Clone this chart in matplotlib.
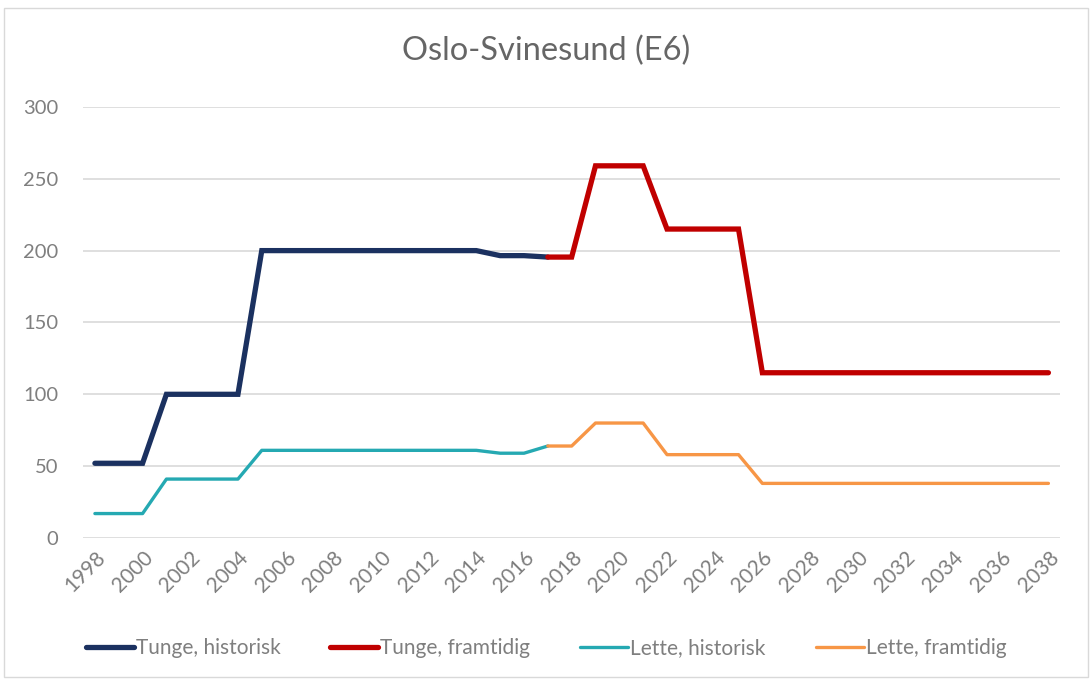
import matplotlib.pyplot as plt
from matplotlib.patches import Rectangle

# data
years_hist = list(range(1998, 2018))
tunge_hist = [52, 52, 52, 100, 100, 100, 100, 200, 200, 200,
              200, 200, 200, 200, 200, 200, 200, 196.5, 196.5, 195.5]
lette_hist = [17, 17, 17, 41, 41, 41, 41, 61, 61, 61,
              61, 61, 61, 61, 61, 61, 61, 59, 59, 64]

years_fut = list(range(2017, 2039))
tunge_fut = [195.5, 195.5, 259, 259, 259, 215, 215, 215, 215, 115, 115,
             115, 115, 115, 115, 115, 115, 115, 115, 115, 115, 115]
lette_fut = [64, 64, 80, 80, 80, 58, 58, 58, 58, 38, 38,
             38, 38, 38, 38, 38, 38, 38, 38, 38, 38, 38]

xticks = list(range(1998, 2039, 2))
yticks = [0, 50, 100, 150, 200, 250, 300]

plt.rcParams['font.family'] = ['Lato', 'DejaVu Sans']
TXT = "#7f7f7f"

fig = plt.figure(figsize=(10.92, 6.81), dpi=100)
ax = fig.add_axes([0.076, 0.210, 0.895, 0.633])

ax.plot(years_hist, tunge_hist, color="#1b3160", lw=3.8,
        solid_capstyle="round", solid_joinstyle="miter", label="Tunge, historisk", zorder=3)
ax.plot(years_fut, tunge_fut, color="#c00000", lw=3.8,
        solid_capstyle="round", solid_joinstyle="miter", label="Tunge, framtidig", zorder=3)
ax.plot(years_hist, lette_hist, color="#25a9b2", lw=2.4,
        solid_capstyle="round", label="Lette, historisk", zorder=3)
ax.plot(years_fut, lette_fut, color="#f79646", lw=2.4,
        solid_capstyle="round", label="Lette, framtidig", zorder=3)

ax.set_xlim(1997.5, 2038.5)
ax.set_ylim(0, 300)
ax.set_yticks(yticks)
ax.set_xticks(xticks)
ax.set_xticklabels([str(y) for y in xticks], rotation=45, ha="right",
                   rotation_mode="anchor")
ax.tick_params(axis="both", length=0, labelsize=14.5, labelcolor=TXT)
ax.tick_params(axis="x", labelsize=15, pad=7)
ax.tick_params(axis="y", pad=18)
ax.grid(axis="y", color="#d9d9d9", lw=1.2)
ax.set_axisbelow(True)
for s in ax.spines.values():
    s.set_visible(False)

fig.text(0.5, 0.925, "Oslo-Svinesund (E6)", ha="center", va="center",
         fontsize=23.5, color="#666666")

fig.legend(loc="center", bbox_to_anchor=(0.5, 0.048), ncol=4, frameon=False,
           fontsize=15, labelcolor=TXT, handlelength=2.3, handletextpad=0.1,
           columnspacing=2.4)

fig.patches.append(Rectangle((0.004, 0.006), 0.992, 0.982, transform=fig.transFigure,
                             fill=False, edgecolor="#d9d9d9", lw=1))

fig.savefig("out.png", dpi=100)
